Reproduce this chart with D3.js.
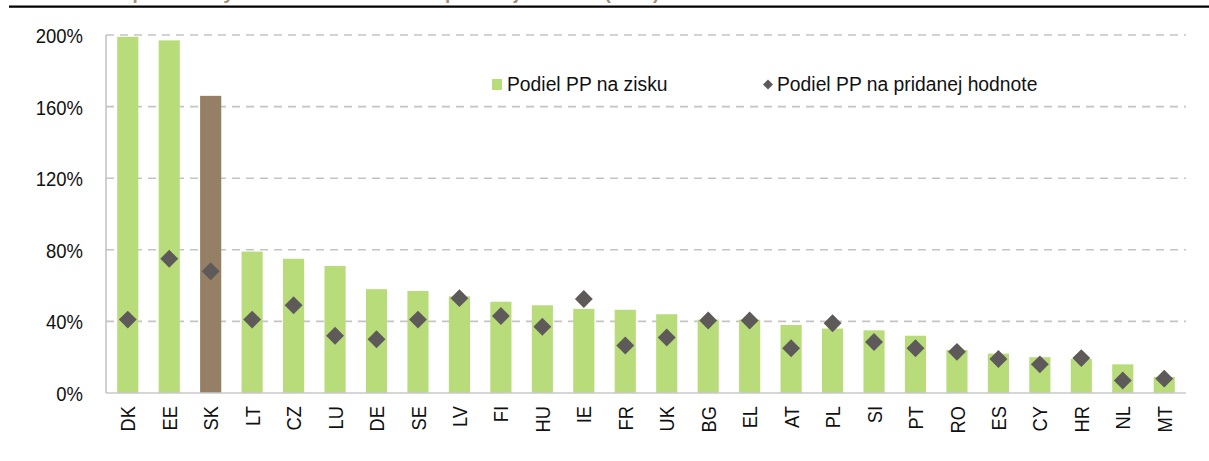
<!DOCTYPE html>
<html>
<head>
<meta charset="utf-8">
<script src="https://cdn.jsdelivr.net/npm/d3@7"></script>
<style>
  body { margin: 0; background: #fff; }
  svg { display: block; font-family: "Liberation Sans", Arial, sans-serif; }
</style>
</head>
<body>
<svg id="chart"></svg>
<script>
// Kategórie (krajiny) a hodnoty v %
const countries = ["DK","EE","SK","LT","CZ","LU","DE","SE","LV","FI","HU","IE","FR","UK","BG","EL","AT","PL","SI","PT","RO","ES","CY","HR","NL","MT"];
const profitShare = [199,197,166,79,75,71,58,57,54,51,49,47,46.5,44,41,41,38,36,35,32,24,22,20,19,16,9];
const valueAddedShare = [41,75,68,41,49,32,30,41,53,43,37,52.5,26.5,31,40.5,40.5,25,39,28.5,25,23,19,16,19.5,7,8];
const yTicks = [0,40,80,120,160,200];
const highlight = "SK";

const W = 1209, H = 461;
const margin = {left: 106, right: 23, top: 35, bottom: 68};

const svg = d3.select("#chart").attr("width", W).attr("height", H);

// Nadpis (orezaný hore) a čierna čiara
svg.append("text")
    .attr("x", 10).attr("y", -1)
    .attr("fill", "#a38f78")
    .attr("font-weight", "bold")
    .attr("font-size", 19)
    .text("Graf 3 Podiel personálnych nákladov na zisku a pridanej hodnote (2016)");
svg.append("line")
    .attr("x1", 9).attr("x2", W)
    .attr("y1", 6.7).attr("y2", 6.7)
    .attr("stroke", "#000").attr("stroke-width", 2.2);

const x = d3.scaleBand()
    .domain(countries)
    .range([margin.left, W - margin.right])
    .paddingInner(0.49)
    .paddingOuter(0.27);

const y = d3.scaleLinear()
    .domain([0, 200])
    .range([H - margin.bottom, margin.top]);

// Mriežka
svg.append("g")
    .selectAll("line")
    .data(yTicks.filter(d => d > 0))
    .join("line")
    .attr("x1", margin.left).attr("x2", W - margin.right)
    .attr("y1", d => y(d)).attr("y2", d => y(d))
    .attr("stroke", "#c4c4c4")
    .attr("stroke-width", 1.6)
    .attr("stroke-dasharray", "8,6");

// Stĺpce
svg.append("g")
    .selectAll("rect")
    .data(countries)
    .join("rect")
    .attr("x", d => x(d))
    .attr("width", x.bandwidth())
    .attr("y", (d, i) => y(profitShare[i]))
    .attr("height", (d, i) => y(0) - y(profitShare[i]))
    .attr("fill", d => d === highlight ? "#957f65" : "#b9dc7b");

// Osi
svg.append("line")
    .attr("x1", margin.left).attr("x2", margin.left)
    .attr("y1", margin.top).attr("y2", y(0))
    .attr("stroke", "#c0c0c0").attr("stroke-width", 1.5);
svg.append("line")
    .attr("x1", margin.left).attr("x2", W - margin.right)
    .attr("y1", y(0)).attr("y2", y(0))
    .attr("stroke", "#c8c8c8").attr("stroke-width", 1.5);

const yAxis = svg.append("g")
    .attr("transform", `translate(${margin.left - 23},0)`)
    .call(d3.axisLeft(y).tickValues(yTicks).tickSize(0).tickPadding(0).tickFormat(d => d + "%"));
yAxis.select(".domain").remove();
yAxis.selectAll("text")
    .attr("font-size", 21)
    .attr("font-family", "Liberation Sans, Arial, sans-serif")
    .attr("fill", "#111")
    .attr("x", 0)
    .attr("dy", "0.36em")
    .attr("transform", "scale(0.88,1)");

const xAxis = svg.append("g")
    .attr("transform", `translate(0,${y(0)})`)
    .call(d3.axisBottom(x).tickSize(0));
xAxis.select(".domain").remove();
xAxis.selectAll("text")
    .attr("font-size", 21)
    .attr("font-family", "Liberation Sans, Arial, sans-serif")
    .attr("fill", "#111")
    .attr("text-anchor", "end")
    .attr("transform", "rotate(-90) scale(0.87,1)")
    .attr("x", -15)
    .attr("y", 0)
    .attr("dy", "0.36em");

// Body (kosoštvorce)
const diamond = d3.symbol().type(d3.symbolSquare).size(160);
svg.append("g")
    .selectAll("path")
    .data(countries)
    .join("path")
    .attr("d", diamond)
    .attr("transform", (d, i) => `translate(${x(d) + x.bandwidth() / 2},${y(valueAddedShare[i])}) rotate(45)`)
    .attr("fill", "#5f5a5a");

// Legenda
const legend = svg.append("g").attr("font-size", 21).attr("fill", "#111");
legend.append("rect")
    .attr("x", 492).attr("y", 79).attr("width", 10).attr("height", 11)
    .attr("fill", "#b9dc7b");
legend.append("text")
    .attr("transform", "translate(507,91) scale(0.92,1)")
    .text("Podiel PP na zisku");
legend.append("path")
    .attr("d", d3.symbol().type(d3.symbolSquare).size(50))
    .attr("transform", "translate(768,84.5) rotate(45)")
    .attr("fill", "#5f5a5a");
legend.append("text")
    .attr("transform", "translate(777,91) scale(0.92,1)")
    .text("Podiel PP na pridanej hodnote");
</script>
</body>
</html>
